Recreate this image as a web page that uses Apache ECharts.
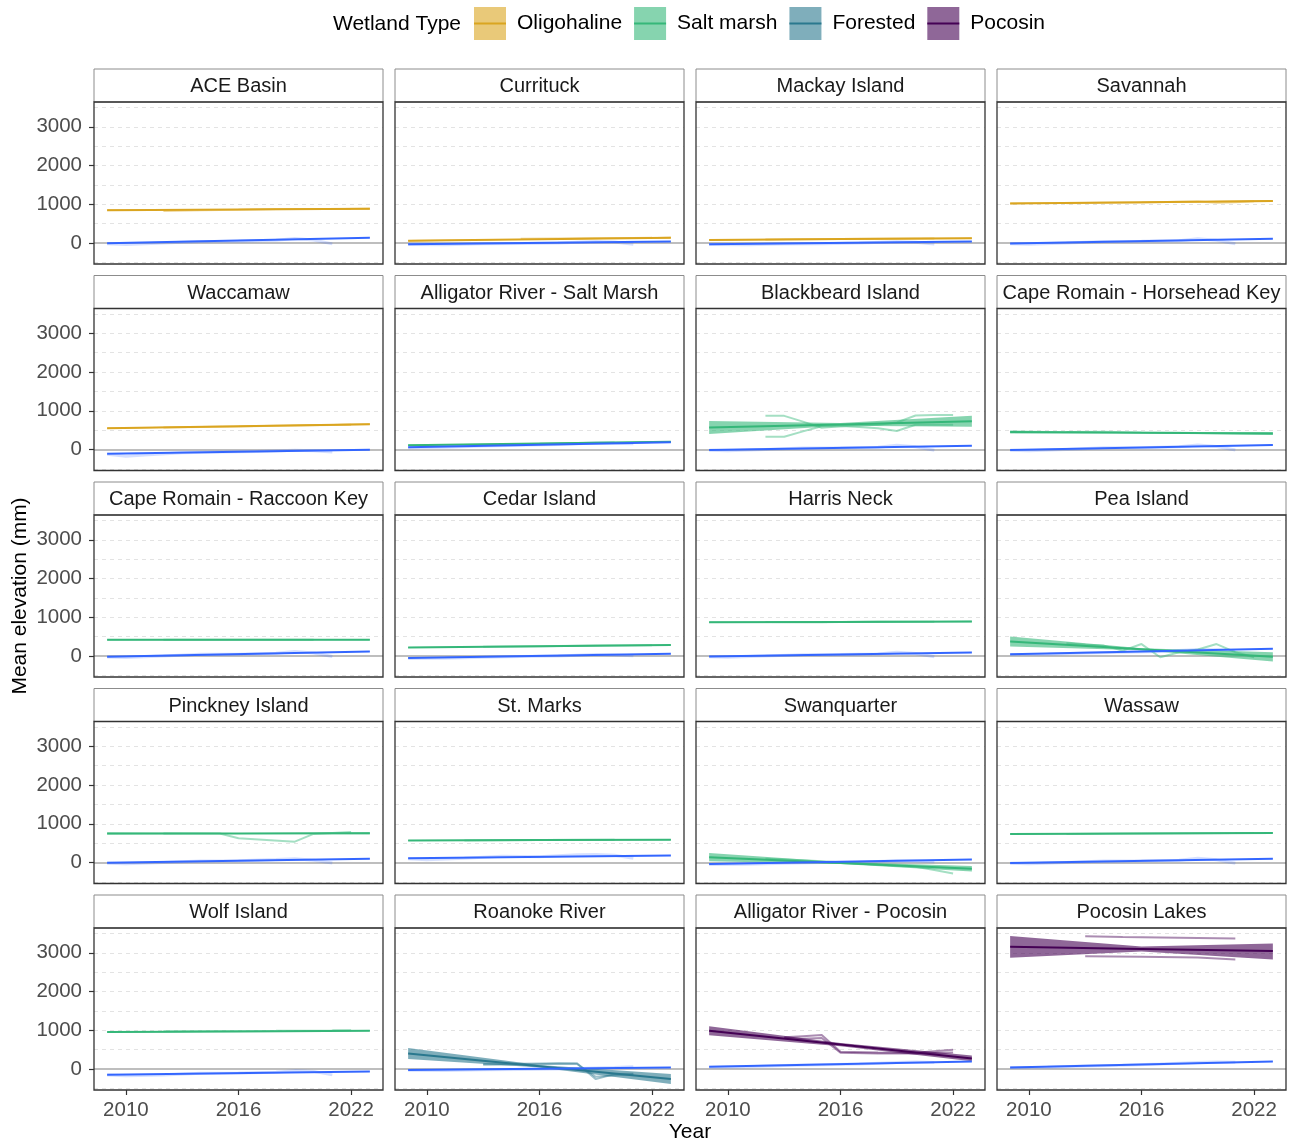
<!DOCTYPE html>
<html>
<head>
<meta charset="utf-8">
<title>Marsh elevation vs. sea level by site</title>
<script src="https://cdn.jsdelivr.net/npm/echarts@6/dist/echarts.min.js"></script>
<style>
  html, body { margin: 0; padding: 0; background: #ffffff; }
  #chart { width: 1289px; height: 1142px; }
</style>
</head>
<body>
<div id="chart"></div>
<script>
const FONT = "'Liberation Sans', Arial, Helvetica, sans-serif";

// ---- data ---------------------------------------------------------------
const siteNames = [
  'ACE Basin', 'Currituck', 'Mackay Island', 'Savannah',
  'Waccamaw', 'Alligator River - Salt Marsh', 'Blackbeard Island', 'Cape Romain - Horsehead Key',
  'Cape Romain - Raccoon Key', 'Cedar Island', 'Harris Neck', 'Pea Island',
  'Pinckney Island', 'St. Marks', 'Swanquarter', 'Wassaw',
  'Wolf Island', 'Roanoke River', 'Alligator River - Pocosin', 'Pocosin Lakes'
];
const siteTypes = [
  'Oligohaline', 'Oligohaline', 'Oligohaline', 'Oligohaline',
  'Oligohaline', 'Salt marsh', 'Salt marsh', 'Salt marsh',
  'Salt marsh', 'Salt marsh', 'Salt marsh', 'Salt marsh',
  'Salt marsh', 'Salt marsh', 'Salt marsh', 'Salt marsh',
  'Salt marsh', 'Forested', 'Pocosin', 'Pocosin'
];
const wetlandTypes = ['Oligohaline', 'Salt marsh', 'Forested', 'Pocosin'];
const typeColors = ['#DAA520', '#35B779', '#2A788E', '#440154'];

// fitted marsh elevation (mm) and its confidence band, sampled at these years
const trendYears = [2009, 2016, 2023];
const elevTrend = [
  [850, 868, 886], [60, 100, 140], [78, 102, 126], [1022, 1054, 1086],
  [552, 603, 655], [110, 155, 200], [568, 650, 733], [452, 434, 416],
  [420, 421, 422], [222, 254, 286], [875, 882, 890], [374, 177, -20],
  [748, 753, 758], [570, 580, 590], [140, -10, -160], [735, 750, 765],
  [955, 972, 990], [403, 72, -258], [988, 631, 274], [3156, 3100, 3044]
];
const elevLower = [
  [825, 860, 862], [40, 92, 118], [60, 95, 106], [1000, 1046, 1062],
  [532, 595, 633], [92, 148, 180], [400, 612, 592], [414, 420, 378],
  [405, 415, 407], [207, 248, 271], [855, 874, 870], [245, 150, -140],
  [723, 743, 733], [555, 574, 575], [35, -35, -232], [720, 744, 750],
  [940, 966, 975], [263, 40, -388], [873, 590, 200], [2872, 3035, 2830]
];
const elevUpper = [
  [875, 876, 910], [80, 108, 162], [96, 109, 146], [1044, 1062, 1110],
  [572, 611, 677], [128, 162, 220], [736, 688, 874], [490, 448, 454],
  [435, 427, 437], [237, 260, 301], [895, 890, 910], [503, 204, 100],
  [773, 763, 783], [585, 586, 605], [245, 15, -88], [750, 756, 780],
  [970, 978, 1005], [543, 104, -128], [1103, 672, 348], [3431, 3165, 3243]
];

// measured station elevations (mm): one or more [year, value] lines per site
const elevRaw = [
  [[[2012, 830], [2014, 848], [2016, 862], [2018, 878], [2020, 882], [2022, 878]]],
  [[[2015, 112], [2017, 120], [2019, 128], [2021, 132], [2022, 136]]],
  [[[2012, 90], [2014, 96], [2016, 102], [2018, 112], [2020, 116], [2021, 118]]],
  [[[2012, 1030], [2014, 1040], [2016, 1050], [2018, 1064], [2019, 1072], [2020, 1040], [2021, 1056], [2022, 1082]]],
  [[[2012, 568], [2014, 584], [2016, 598], [2018, 616], [2020, 630], [2022, 642]]],
  [[[2014, 140], [2016, 152], [2018, 170], [2020, 180]]],
  [
    [[2012, 870], [2013, 870], [2014, 720], [2015, 560], [2016, 600], [2017, 620], [2018, 640], [2019, 700], [2020, 880], [2021, 890], [2022, 890]],
    [[2012, 330], [2013, 330], [2014, 470], [2015, 600], [2016, 610], [2017, 580], [2018, 550], [2019, 480], [2020, 640], [2021, 640], [2022, 640]]
  ],
  [[[2012, 455], [2014, 462], [2016, 440], [2018, 432], [2019, 425]]],
  [[[2012, 418], [2016, 424], [2020, 420]]],
  [[[2013, 240], [2016, 256], [2019, 270], [2022, 282]]],
  [[[2012, 880], [2015, 874], [2018, 890], [2021, 886]]],
  [[[2012, 330], [2013, 290], [2014, 270], [2015, 140], [2016, 310], [2017, -30], [2018, 100], [2019, 170], [2020, 310], [2021, 100], [2022, -30]]],
  [[[2012, 752], [2015, 752], [2016, 630], [2019, 540], [2020, 740], [2022, 790]]],
  [[[2012, 572], [2016, 582], [2020, 590]]],
  [[[2012, 100], [2014, 60], [2016, 10], [2018, -55], [2020, -110], [2021, -190], [2022, -280]]],
  [[[2012, 740], [2015, 748], [2018, 756], [2021, 760], [2022, 762]]],
  [[[2012, 975], [2015, 984], [2018, 990], [2021, 1000], [2022, 1004]]],
  [
    [[2013, 130], [2015, 140], [2017, 150], [2018, 150], [2019, -260], [2020, -130], [2021, -120]],
    [[2013, 110], [2015, 120], [2017, 140], [2018, 130], [2019, -200], [2020, -160], [2021, -140]]
  ],
  [
    [[2013, 820], [2014, 850], [2015, 880], [2016, 450], [2018, 430], [2020, 420], [2022, 500]],
    [[2013, 800], [2014, 780], [2015, 800], [2016, 420], [2018, 400], [2020, 400], [2022, 430]]
  ],
  [
    [[2013, 3430], [2015, 3410], [2018, 3390], [2021, 3370]],
    [[2013, 2910], [2016, 2900], [2019, 2880], [2021, 2830]]
  ]
];

// local sea level (mm): fitted trend at 2009 and 2023, plus the gauge record
const seaYears = [2009, 2023];
const seaTrend = [
  [-5, 135], [-30, 40], [-30, 40], [-10, 110],
  [-110, -5], [60, 190], [-10, 100], [-10, 120],
  [-20, 120], [-50, 60], [-10, 90], [50, 186],
  [-5, 98], [114, 183], [-40, 80], [-10, 100],
  [-145, -60], [-26, 41], [59, 196], [41, 196]
];
const seaRaw = [
  [[2009, -20], [2010, -35], [2012, 0], [2014, 40], [2016, 45], [2018, 70], [2019, 115], [2020, 80], [2021, -20]],
  [[2009, -40], [2011, -45], [2013, -20], [2015, -10], [2017, 0], [2019, 40], [2020, 25], [2021, -30]],
  [[2009, -40], [2011, -45], [2013, -25], [2015, -15], [2017, 0], [2019, 35], [2020, 20], [2021, -25]],
  [[2009, -20], [2010, -30], [2012, 0], [2014, 40], [2016, 45], [2018, 60], [2019, 110], [2020, 70], [2021, -20]],
  [[2009, -120], [2010, -170], [2011, -140], [2013, -80], [2015, -60], [2017, -50], [2019, -20], [2020, -30], [2021, -60]],
  [[2009, 50], [2011, 60], [2013, 90], [2015, 110], [2017, 130], [2019, 170], [2020, 160], [2021, 150]],
  [[2009, -20], [2010, -30], [2012, 0], [2014, 40], [2016, 45], [2018, 60], [2019, 110], [2020, 70], [2021, -20]],
  [[2009, -20], [2010, -30], [2012, 0], [2014, 45], [2016, 50], [2018, 70], [2019, 120], [2020, 80], [2021, -10]],
  [[2009, -25], [2010, -35], [2012, 0], [2014, 45], [2016, 50], [2018, 70], [2019, 120], [2020, 80], [2021, -10]],
  [[2009, -60], [2011, -55], [2013, -30], [2015, -10], [2017, 0], [2019, 40], [2020, 30], [2021, 10]],
  [[2009, -20], [2010, -30], [2012, 0], [2014, 35], [2016, 40], [2018, 55], [2019, 100], [2020, 65], [2021, -20]],
  [[2009, 40], [2011, 50], [2013, 80], [2015, 100], [2017, 120], [2019, 170], [2020, 160], [2021, 140]],
  [[2009, -20], [2010, -30], [2012, 0], [2014, 40], [2016, 45], [2018, 80], [2019, 100], [2020, 60], [2021, -10]],
  [[2009, 100], [2010, 70], [2012, 110], [2014, 160], [2016, 150], [2018, 200], [2019, 210], [2020, 190], [2021, 110]],
  [[2009, -50], [2011, -45], [2013, -20], [2015, 0], [2017, 10], [2019, 50], [2020, 40], [2021, 20]],
  [[2009, -20], [2010, -30], [2012, 0], [2014, 40], [2016, 45], [2018, 60], [2019, 110], [2020, 70], [2021, -20]],
  [[2009, -150], [2010, -175], [2012, -150], [2014, -110], [2016, -100], [2018, -80], [2019, -40], [2020, -60], [2021, -150]],
  [[2009, -30], [2011, -40], [2013, -20], [2015, -10], [2017, 0], [2019, 30], [2020, 40], [2021, 60]],
  [[2009, 50], [2011, 60], [2013, 90], [2015, 110], [2017, 130], [2019, 170], [2020, 180], [2021, 170]],
  [[2009, 40], [2011, 50], [2013, 80], [2015, 100], [2017, 130], [2019, 170], [2020, 180], [2021, 175]]
];

// axis ticks and reference lines
const xTicks = [2010, 2016, 2022];
const yTicks = [0, 1000, 2000, 3000];
const gridValues = [-500, 500, 1000, 1500, 2000, 2500, 3000, 3500];

// ---- layout -------------------------------------------------------------
const COL_LEFT = [94, 395, 696, 997];
const ROW_TOP = [69, 275.5, 482, 688.5, 895];
const PANEL_W = 289;
const STRIP_H = 33;
const PLOT_H = 162;
const SEA_COLOR = '#3366FF';

function rgba(hex, a) {
  const n = parseInt(hex.slice(1), 16);
  return 'rgba(' + ((n >> 16) & 255) + ',' + ((n >> 8) & 255) + ',' + (n & 255) + ',' + a + ')';
}
const plainNumber = v => String(v);

const grids = [], xAxes = [], yAxes = [], series = [], graphics = [];

siteNames.forEach((name, i) => {
  const r = Math.floor(i / 4), c = i % 4;
  const left = COL_LEFT[c], stripTop = ROW_TOP[r];
  const color = typeColors[wetlandTypes.indexOf(siteTypes[i])];

  grids.push({
    left: left, top: stripTop + STRIP_H, width: PANEL_W, height: PLOT_H,
    show: true, borderColor: '#333333', borderWidth: 1.3, backgroundColor: 'transparent', z: 3
  });

  xAxes.push({
    type: 'value', gridIndex: i, min: 2008.3, max: 2023.7,
    axisLine: { show: false, onZero: false }, splitLine: { show: false },
    axisTick: { show: r === 4, customValues: xTicks, length: 5, lineStyle: { color: '#333333', width: 1.2 } },
    axisLabel: { show: r === 4, customValues: xTicks, formatter: plainNumber, fontSize: 20.5, color: '#4d4d4d', margin: 9.5, fontFamily: FONT }
  });
  yAxes.push({
    type: 'value', gridIndex: i, min: -540, max: 3640,
    axisLine: { show: false, onZero: false }, splitLine: { show: false },
    axisTick: { show: c === 0, customValues: yTicks, length: 5, lineStyle: { color: '#333333', width: 1.2 } },
    axisLabel: { show: c === 0, customValues: yTicks, formatter: plainNumber, fontSize: 20.5, color: '#4d4d4d', margin: 12, fontFamily: FONT }
  });

  // facet strip
  graphics.push({
    type: 'rect', silent: true, z: 1,
    shape: { x: left, y: stripTop, width: PANEL_W, height: STRIP_H },
    style: { fill: '#ffffff', stroke: '#8c8c8c', lineWidth: 1 }
  });
  graphics.push({
    type: 'text', silent: true, z: 2,
    x: left + PANEL_W / 2, y: stripTop + STRIP_H / 2 + 1,
    style: { text: name, fill: '#1a1a1a', font: '20px ' + FONT, align: 'center', verticalAlign: 'middle' }
  });

  const common = { xAxisIndex: i, yAxisIndex: i, silent: true, animation: false };

  // sea-level gauge record, carrying the panel's reference lines
  series.push(Object.assign({}, common, {
    type: 'line', name: 'gauge', z: 2, symbol: 'none',
    lineStyle: { color: rgba(SEA_COLOR, 0.2), width: 3 },
    data: seaRaw[i],
    markLine: {
      silent: true, symbol: 'none', z: 1, animation: false,
      label: { show: false },
      emphasis: { disabled: true },
      data: gridValues.map(v => ({ yAxis: v, lineStyle: { color: '#e3e3e3', type: [4, 4], width: 1 } }))
        .concat([{ yAxis: 0, lineStyle: { color: '#bebebe', type: 'solid', width: 1.8 } }])
    }
  }));

  // confidence band of the elevation trend
  const lowerVals = elevLower[i], upperVals = elevUpper[i];
  series.push(Object.assign({}, common, {
    type: 'custom', name: siteTypes[i] + ' band', z: 3,
    data: trendYears.map((y, k) => [y, lowerVals[k], upperVals[k]]),
    encode: { x: 0, y: [1, 2] },
    renderItem: (params, api) => {
      if (params.dataIndex !== 0) return null;
      const top = trendYears.map((y, k) => api.coord([y, upperVals[k]]));
      const bottom = trendYears.map((y, k) => api.coord([y, lowerVals[k]])).reverse();
      return {
        type: 'polygon',
        shape: { points: top.concat(bottom) },
        style: { fill: rgba(color, 0.6), stroke: null }
      };
    }
  }));

  // station measurements
  elevRaw[i].forEach(line => {
    series.push(Object.assign({}, common, {
      type: 'line', name: 'station', z: 4, symbol: 'none',
      lineStyle: { color: rgba(color, 0.45), width: 2 },
      data: line
    }));
  });

  // elevation trend
  series.push(Object.assign({}, common, {
    type: 'line', name: siteTypes[i], z: 5, symbol: 'none',
    lineStyle: { color: color, width: 2 },
    itemStyle: { color: color },
    data: trendYears.map((y, k) => [y, elevTrend[i][k]])
  }));

  // sea-level trend
  series.push(Object.assign({}, common, {
    type: 'line', name: 'sea level', z: 6, symbol: 'none',
    lineStyle: { color: SEA_COLOR, width: 2 },
    data: seaYears.map((y, k) => [y, seaTrend[i][k]])
  }));
});

// axis titles and legend heading
graphics.push({
  type: 'text', silent: true,
  x: 333, y: 24,
  style: { text: 'Wetland Type', fill: '#000000', font: '21px ' + FONT, align: 'left', verticalAlign: 'middle' }
});
graphics.push({
  type: 'text', silent: true,
  x: 690, y: 1132,
  style: { text: 'Year', fill: '#000000', font: '21px ' + FONT, align: 'center', verticalAlign: 'middle' }
});
graphics.push({
  type: 'text', silent: true,
  x: 20, y: 596, rotation: Math.PI / 2,
  style: { text: 'Mean elevation (mm)', fill: '#000000', font: '21px ' + FONT, align: 'center', verticalAlign: 'middle' }
});

const legendBase = {
  left: 474, top: 7, padding: 0, itemWidth: 32, itemHeight: 33, itemGap: 12,
  selectedMode: false, symbolKeepAspect: true
};
const keyLine = 'path://M0,0h0.01v0.01h-0.01zM0,15.4h32v2.2h-32zM31.99,32.99h0.01v0.01h-0.01z';

const option = {
  animation: false,
  backgroundColor: '#ffffff',
  textStyle: { fontFamily: FONT },
  grid: grids,
  xAxis: xAxes,
  yAxis: yAxes,
  legend: [
    Object.assign({}, legendBase, {
      textStyle: { fontSize: 21, color: '#000000', fontFamily: FONT, padding: [0, 0, 0, 6] },
      data: wetlandTypes.map((t, k) => ({
        name: t, icon: 'rect',
        itemStyle: { color: rgba(typeColors[k], 0.6), borderWidth: 0 }
      }))
    }),
    Object.assign({}, legendBase, {
      textStyle: { fontSize: 21, color: 'rgba(0,0,0,0)', fontFamily: FONT, padding: [0, 0, 0, 6] },
      data: wetlandTypes.map((t, k) => ({
        name: t, icon: keyLine,
        itemStyle: { color: typeColors[k], borderWidth: 0 }
      }))
    })
  ],
  graphic: graphics,
  series: series
};

const chart = echarts.init(document.getElementById('chart'), null, { renderer: 'canvas' });
chart.setOption(option);
</script>
</body>
</html>
